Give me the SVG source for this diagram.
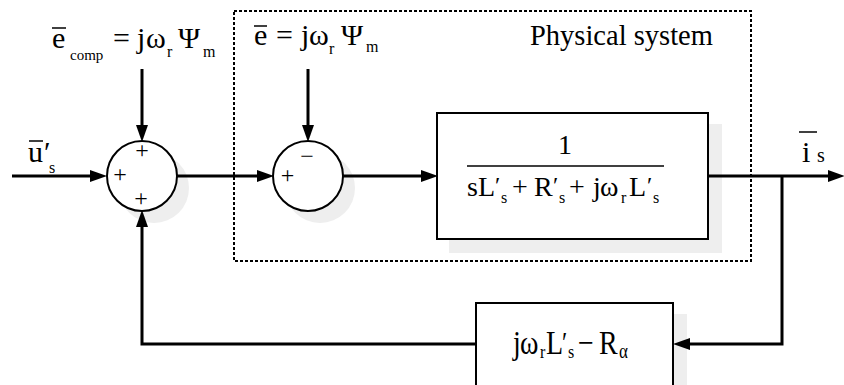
<svg xmlns="http://www.w3.org/2000/svg" width="844" height="385" viewBox="0 0 844 385">
<defs>
<style>
.m{font-family:"Liberation Serif","Times New Roman","DejaVu Serif",serif;font-size:30px;fill:#000}
.b{font-size:28px}
.sub{font-size:16px}
.pr{font-size:24px}
.t{font-family:"Liberation Serif","Times New Roman",serif;font-size:28.5px;fill:#000}
.sg{font-family:"Liberation Serif","Times New Roman",serif;font-size:24px;fill:#000;text-anchor:middle}
.bar{stroke:#000;stroke-width:1.5}
.shadow{fill:#eeeeee;stroke:none}
.node{fill:#fff;stroke:#000;stroke-width:2}
.wire{fill:none;stroke:#000;stroke-width:3;marker-end:url(#arr)}
.dot{fill:none;stroke:#000;stroke-width:2;stroke-dasharray:3 2}
</style>
<marker id="arr" markerUnits="userSpaceOnUse" markerWidth="17" markerHeight="12" refX="10" refY="6" orient="auto">
<path d="M0,0 L17,6 L0,12 z" fill="#000"/>
</marker>
</defs>

<g id="physical-system">
<rect class="dot" x="234" y="11" width="517" height="250"/>
<text class="t" x="530" y="45">Physical system</text>
</g>

<g id="sum1">
<circle class="shadow" cx="154" cy="188" r="35"/>
<circle class="node" cx="142" cy="176" r="35"/>
<text class="sg" x="142" y="158">+</text>
<text class="sg" x="120" y="182">+</text>
<text class="sg" x="141" y="206">+</text>
</g>

<g id="sum2">
<circle class="shadow" cx="320" cy="188" r="35"/>
<circle class="node" cx="308" cy="176" r="35"/>
<text class="sg" x="287.5" y="183">+</text>
<text class="sg" x="307" y="164">−</text>
</g>

<g id="plant">
<rect class="shadow" x="449" y="124" width="273" height="129"/>
<rect class="node" x="437" y="113" width="271" height="126"/>
<text class="m b" x="565" y="154" text-anchor="middle">1</text>
<line x1="467" y1="166" x2="664" y2="166" stroke="#000" stroke-width="1.5"/>
<text class="m b"><tspan x="467" y="196">s</tspan><tspan x="478" y="196">L</tspan><tspan class="pr" x="495" y="193">′</tspan><tspan class="sub" x="501" y="203">s</tspan><tspan x="512" y="196">+</tspan><tspan x="534" y="196">R</tspan><tspan class="pr" x="553" y="193">′</tspan><tspan class="sub" x="559" y="203">s</tspan><tspan x="569" y="196">+</tspan><tspan x="593" y="196">j</tspan><tspan x="600" y="196">ω</tspan><tspan class="sub" x="621" y="203">r</tspan><tspan x="629" y="196">L</tspan><tspan class="pr" x="647" y="193">′</tspan><tspan class="sub" x="653" y="203">s</tspan></text>
</g>

<g id="feedback">
<rect class="shadow" x="488" y="314" width="199" height="80"/>
<rect class="node" x="476" y="303" width="197" height="90"/>
<g transform="matrix(1 0 0 1.2 0 -70.8)">
<text class="m b"><tspan x="513" y="354">j</tspan><tspan x="520" y="354">ω</tspan><tspan class="sub" x="540" y="357">r</tspan><tspan x="546" y="354">L</tspan><tspan class="pr" x="562" y="352">′</tspan><tspan class="sub" x="568" y="357">s</tspan><tspan x="578" y="354">−</tspan><tspan x="599" y="354">R</tspan><tspan x="619" y="357" style="font-size:17px">α</tspan></text>
</g>
</g>

<g id="label-ecomp">
<line class="bar" x1="52" y1="28" x2="66" y2="28"/>
<text class="m"><tspan x="52" y="48">e</tspan><tspan x="70" y="60" style="font-size:15px">comp</tspan><tspan x="113" y="48">=</tspan><tspan x="137" y="48">j</tspan><tspan x="146" y="48">ω</tspan><tspan class="sub" x="167" y="57">r</tspan><tspan x="178" y="48">Ψ</tspan><tspan class="sub" x="203" y="57">m</tspan></text>
</g>

<g id="label-e">
<line class="bar" x1="254" y1="26" x2="267" y2="26"/>
<text class="m"><tspan x="254" y="45">e</tspan><tspan x="276" y="45">=</tspan><tspan x="301" y="45">j</tspan><tspan x="309" y="45">ω</tspan><tspan class="sub" x="329" y="54">r</tspan><tspan x="341" y="45">Ψ</tspan><tspan class="sub" x="366" y="52">m</tspan></text>
</g>

<g id="label-u">
<line class="bar" x1="29" y1="141" x2="43" y2="141"/>
<text class="m"><tspan x="28" y="162">u</tspan><tspan x="44" y="162">′</tspan><tspan class="sub" x="49" y="173">s</tspan></text>
</g>

<g id="label-i">
<line class="bar" x1="799" y1="132" x2="817" y2="132"/>
<text class="m"><tspan x="802" y="162">i</tspan><tspan x="817" y="162" style="font-size:20px">s</tspan></text>
</g>

<g id="connectors">
<path class="wire" d="M12,176 H100"/>
<path class="wire" d="M142,69 V135"/>
<path class="wire" d="M177,176 H267"/>
<path class="wire" d="M308,69 V135"/>
<path class="wire" d="M343,176 H431"/>
<path class="wire" d="M708,176 H838"/>
<path class="wire" d="M782,176 V344 H680"/>
<path class="wire" d="M476,344 H142 V217"/>
</g>
</svg>
